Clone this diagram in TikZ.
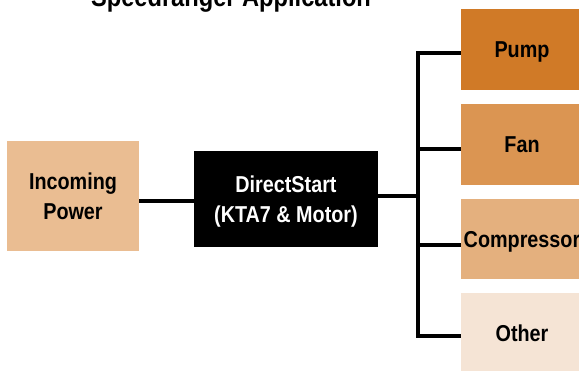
\documentclass[tikz,border=0pt]{standalone}
\usepackage{fontspec}
\newfontfamily\cond[FakeStretch=0.86]{Liberation Sans Bold}
\definecolor{cpump}{HTML}{D07A27}
\definecolor{cfan}{HTML}{DB9552}
\definecolor{ccomp}{HTML}{E4B07E}
\definecolor{cother}{HTML}{F5E4D5}
\definecolor{cin}{HTML}{EABD92}
\begin{document}
\begin{tikzpicture}[x=1pt,y=-1pt,
  box/.style={rectangle,inner sep=0pt,draw=none,align=center,text depth=0pt,
    font=\cond\fontsize{23}{29.5}\selectfont},
  wire/.style={line width=3.5pt,line join=miter,line cap=butt}]
\useasboundingbox (0,0) rectangle (579,371);
% title
\node[anchor=base,font=\cond\fontsize{27.5}{30}\selectfont,inner sep=0pt] (title) at (231,7) {Speedranger Application};
% boxes
\node[box,fill=cin,minimum width=132pt,minimum height=110pt] (in) at (73,196) {Incoming\\Power};
\node[box,fill=black,text=white,minimum width=184pt,minimum height=96pt] (ds) at (286,199) {DirectStart\\(KTA7 \& Motor)};
\node[box,fill=cpump,minimum width=122pt,minimum height=81pt] (pump) at (522,49.5) {Pump};
\node[box,fill=cfan,minimum width=122pt,minimum height=81pt] (fan) at (522,144.5) {Fan};
\node[box,fill=ccomp,minimum width=122pt,minimum height=80pt] (comp) at (522,239) {Compressor};
\node[box,fill=cother,minimum width=122pt,minimum height=80pt] (other) at (522,333) {Other};
% connectors
\coordinate (j1) at (0,201);
\coordinate (bm) at (418,196);
\coordinate (b1) at (418,53);
\coordinate (b2) at (418,149);
\coordinate (b3) at (418,245);
\coordinate (b4) at (418,336);
\draw[wire] (in.east |- j1) -- (ds.west |- j1);
\draw[wire] (ds.east |- bm) -- (bm);
\draw[wire] (pump.west |- b1) -- (b1) -- (b4) -- (other.west |- b4);
\draw[wire] (b2) -- (fan.west |- b2);
\draw[wire] (b3) -- (comp.west |- b3);
\end{tikzpicture}
\end{document}
